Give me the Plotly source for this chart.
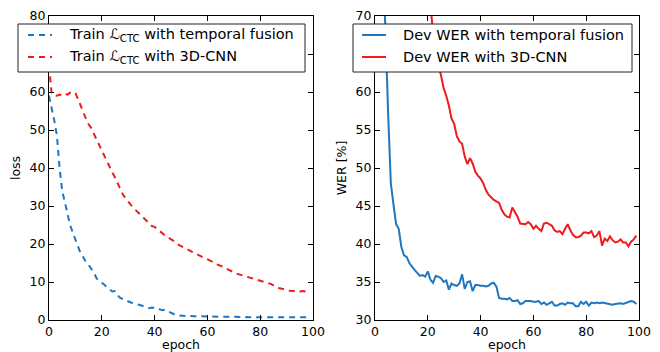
import plotly.graph_objects as go
from plotly.subplots import make_subplots

epochs = list(range(100))

train_loss_tf = [59.0, 56.0, 52.5, 48.5, 40.0, 34.0, 31.0, 27.5, 25.0, 23.0,
                 21.0, 19.0, 17.5, 16.5, 15.2, 14.5, 13.5, 12.5, 11.0, 10.2,
                 9.8, 9.3, 8.5, 8.0, 7.5, 7.6, 6.5, 5.8, 5.5, 5.0,
                 4.8, 4.6, 4.4, 4.1, 4.0, 3.8, 3.6, 3.4, 3.1, 3.3,
                 3.0, 2.9, 2.8, 2.6, 2.7, 2.3, 2.0, 1.5, 1.3, 1.2,
                 1.1, 1.1, 1.0, 1.1, 1.0, 1.0, 1.0, 0.9, 1.0, 0.9,
                 0.9, 0.9, 0.9, 0.8, 0.9, 0.8, 0.8, 0.8, 0.8, 0.8,
                 0.8, 0.8, 0.8, 0.8, 0.7, 0.8, 0.7, 0.8, 0.7, 0.7,
                 0.7, 0.7, 0.7, 0.7, 0.7, 0.7, 0.7, 0.7, 0.7, 0.7,
                 0.7, 0.7, 0.7, 0.7, 0.7, 0.7, 0.7, 0.7, 0.6, 0.7]

train_loss_3d = [67.0, 59.5, 59.2, 59.0, 59.3, 59.0, 59.5, 59.3, 59.8, 60.0,
                 59.8, 58.0, 56.5, 54.5, 53.0, 51.5, 50.5, 49.0, 47.5, 46.0,
                 44.5, 43.0, 41.5, 40.0, 38.8, 37.5, 36.0, 34.5, 33.0, 32.0,
                 31.0, 30.3, 29.5, 28.8, 28.2, 27.5, 26.8, 26.0, 25.2, 24.7,
                 24.5, 24.0, 23.3, 22.8, 22.2, 21.8, 21.2, 20.8, 20.5, 19.8,
                 19.5, 19.2, 18.8, 18.4, 18.0, 17.6, 17.3, 17.0, 16.6, 16.3,
                 16.0, 15.6, 15.3, 14.8, 14.6, 14.3, 14.0, 13.6, 13.2, 12.8,
                 12.5, 12.2, 12.0, 11.8, 11.5, 11.3, 11.0, 10.9, 10.6, 10.4,
                 10.2, 10.0, 9.8, 9.6, 9.5, 9.1, 8.6, 8.4, 8.2, 8.1,
                 7.9, 7.7, 7.6, 7.6, 7.7, 7.5, 7.6, 7.5, 7.3, 7.4]

dev_wer_tf = [100.0, 92.0, 85.0, 78.0, 68.0, 57.0, 48.0, 45.2, 42.6, 42.0,
              39.6, 38.5, 38.3, 37.5, 37.0, 36.6, 36.2, 35.8, 35.9, 35.7,
              36.4, 35.3, 34.9, 35.8, 35.7, 35.5, 35.0, 35.2, 34.0, 34.8,
              34.6, 34.5, 34.8, 36.0, 34.1, 35.0, 35.1, 33.8, 34.6, 34.6,
              34.5, 34.5, 34.4, 34.5, 34.8, 34.9, 34.4, 32.9, 32.8, 32.8,
              32.7, 32.9, 32.5, 32.5, 32.6, 32.1, 32.2, 32.5, 32.5, 32.5,
              32.4, 32.4, 32.5, 32.1, 32.3, 32.0, 32.2, 32.4, 31.9, 31.9,
              32.1, 32.2, 32.0, 32.3, 32.2, 32.2, 31.8, 31.8, 32.4, 32.1,
              32.4, 31.9, 32.3, 32.2, 32.3, 32.2, 32.3, 32.2, 32.1, 32.1,
              32.0, 32.1, 32.2, 32.2, 32.1, 32.2, 32.4, 32.5, 32.4, 32.1]

dev_wer_3d = [100.0, 98.0, 96.5, 95.0, 93.5, 92.0, 90.5, 89.0, 87.5, 86.0,
              84.5, 83.0, 81.5, 80.0, 78.8, 77.5, 76.3, 75.0, 74.0, 73.0,
              72.2, 71.5, 67.8, 66.0, 63.5, 62.2, 60.5, 59.5, 58.2, 56.5,
              55.8, 54.2, 53.5, 53.2, 51.5, 50.5, 51.3, 50.6, 49.5, 49.0,
              48.6, 48.0, 47.1, 46.5, 46.1, 45.8, 45.6, 45.4, 44.5, 43.9,
              43.6, 43.5, 44.8, 44.2, 43.6, 42.7, 42.6, 42.6, 42.9, 42.6,
              42.0, 42.4, 42.0, 41.7, 42.7, 42.8, 42.6, 42.4, 41.8, 41.6,
              41.7, 41.3, 42.0, 42.6, 41.8, 41.2, 40.9, 40.9, 41.1, 41.5,
              41.5, 41.4, 41.7, 40.9, 41.1, 41.7, 39.8, 40.7, 40.4, 41.0,
              40.5, 40.2, 40.3, 40.6, 40.2, 40.2, 39.7, 40.3, 40.6, 41.1]

x_ticks = [0, 20, 40, 60, 80, 100]
loss_ticks = [0, 10, 20, 30, 40, 50, 60, 70, 80]
wer_ticks = [30, 35, 40, 45, 50, 55, 60, 65, 70]

names_left = ["Train ℒ<sub>CTC</sub> with temporal fusion", "Train ℒ<sub>CTC</sub> with 3D-CNN"]
names_right = ["Dev WER with temporal fusion", "Dev WER with 3D-CNN"]

BLUE = "#1f77c0"
RED = "#ee1c1c"
FONT = "DejaVu Sans"
DASH = "6px,5px"

W, H = 660, 352
ML, MR, MT, MB = 49, 21, 16, 32


def px(xp):
    return (xp - ML) / (W - ML - MR)


def py(yp):
    return (H - MB - yp) / (H - MT - MB)


fig = make_subplots(rows=1, cols=2, horizontal_spacing=0.105)

series = [
    (train_loss_tf, names_left[0], BLUE, DASH, 1),
    (train_loss_3d, names_left[1], RED, DASH, 1),
    (dev_wer_tf, names_right[0], BLUE, "solid", 2),
    (dev_wer_3d, names_right[1], RED, "solid", 2),
]
for vals, name, color, dash, col in series:
    fig.add_trace(go.Scatter(x=epochs, y=vals, mode="lines", name=name,
                             line=dict(color=color, width=2, dash=dash),
                             showlegend=False), row=1, col=col)

axis_common = dict(showline=True, linecolor="black", linewidth=1, mirror="allticks",
                   ticks="inside", ticklen=5, tickcolor="black", showgrid=False,
                   zeroline=False, tickfont=dict(family=FONT, size=12.5, color="black"))

fig.update_xaxes(range=[0, 100], tickvals=x_ticks,
                 title=dict(text="epoch", font=dict(family=FONT, size=12.5, color="black"), standoff=5),
                 **axis_common)
fig.update_yaxes(range=[0, 80], tickvals=loss_ticks, row=1, col=1,
                 title=dict(text="loss", font=dict(family=FONT, size=12.5, color="black"), standoff=6),
                 **axis_common)
fig.update_yaxes(range=[30, 70], tickvals=wer_ticks, row=1, col=2,
                 title=dict(text="WER [%]", font=dict(family=FONT, size=12.5, color="black"), standoff=6),
                 **axis_common)

# legend boxes drawn in pixel positions (converted to paper coordinates)
legends = [
    dict(box=(18, 305), sample=(28, 52), text_x=67, entries=series[:2]),
    dict(box=(353, 632), sample=(362, 386), text_x=401, entries=series[2:]),
]
rows_y = [35, 57]
shapes = []
annotations = []
for lg in legends:
    shapes.append(dict(type="rect", xref="paper", yref="paper", layer="above",
                       x0=px(lg["box"][0]), x1=px(lg["box"][1]), y0=py(72), y1=py(24),
                       fillcolor="white", line=dict(color="#222222", width=1)))
    for (vals, name, color, dash, col), ry in zip(lg["entries"], rows_y):
        shapes.append(dict(type="line", xref="paper", yref="paper", layer="above",
                           x0=px(lg["sample"][0]), x1=px(lg["sample"][1]), y0=py(ry), y1=py(ry),
                           line=dict(color=color, width=2, dash=dash)))
        annotations.append(dict(xref="paper", yref="paper", x=px(lg["text_x"]), y=py(ry),
                                xanchor="left", yanchor="middle", showarrow=False, text=name,
                                font=dict(family=FONT, size=14.5, color="black")))

fig.update_layout(
    width=W, height=H,
    margin=dict(l=ML, r=MR, t=MT, b=MB, autoexpand=False),
    plot_bgcolor="white", paper_bgcolor="white",
    showlegend=False,
    shapes=shapes, annotations=annotations,
)

fig.write_html("out.html", config={"displayModeBar": False},
               post_script="document.body.style.margin='0';document.body.style.overflow='hidden';")
